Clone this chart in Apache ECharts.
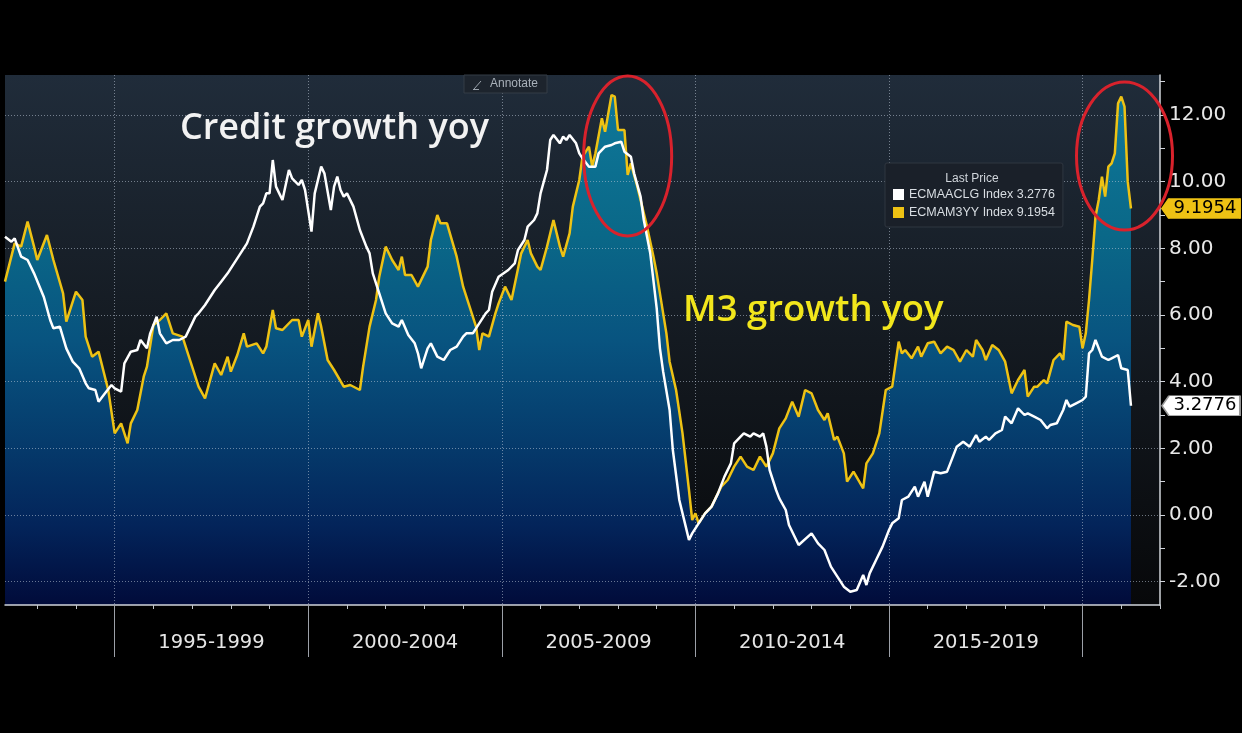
<!DOCTYPE html>
<html>
<head>
<meta charset="utf-8">
<script src="https://cdn.jsdelivr.net/npm/echarts@6/dist/echarts.min.js"></script>
<style>html,body{margin:0;padding:0;background:#000;}#c{width:1242px;height:733px;}</style>
</head>
<body>
<div id="c"></div>
<script>
// ---------- data ----------
const firstMonth = '1992-03';
const lastAxisMonth = '2022-01';
const periodStartYears = [1995, 2000, 2005, 2010, 2015, 2020];
const periodLabels = ['1995-1999', '2000-2004', '2005-2009', '2010-2014', '2015-2019'];
const yLabelValues = [-2, 0, 2, 4, 6, 8, 10, 12];
const yTickValues = [-2, -1, 0, 1, 2, 3, 4, 5, 6, 7, 8, 9, 10, 11, 12, 13];

const creditName = 'ECMAACLG Index';
const m3Name = 'ECMAM3YY Index';

const creditDates = [
 '1992-03','1992-05','1992-06','1992-08','1992-10','1992-12',
 '1993-03','1993-05','1993-06','1993-08','1993-10','1993-12',
 '1994-02','1994-04','1994-05','1994-07','1994-08','1994-10','1994-12',
 '1995-01','1995-03','1995-04','1995-06','1995-08','1995-09','1995-11','1995-12',
 '1996-02','1996-03','1996-05','1996-07','1996-09','1996-11',
 '1997-01','1997-02','1997-03','1997-05','1997-08','1997-10','1997-12',
 '1998-02','1998-04','1998-06','1998-08','1998-10','1998-11','1998-12',
 '1999-01','1999-02','1999-03','1999-04','1999-05','1999-07','1999-08','1999-10','1999-11','1999-12',
 '2000-02','2000-03','2000-05','2000-06','2000-08','2000-09','2000-10','2000-11','2000-12',
 '2001-01','2001-03','2001-05','2001-07','2001-08','2001-09','2001-11',
 '2002-01','2002-03','2002-05','2002-06','2002-08','2002-10','2002-11','2002-12',
 '2003-02','2003-03','2003-05','2003-07','2003-09','2003-11',
 '2004-01','2004-02','2004-04','2004-06','2004-08','2004-09','2004-10','2004-12',
 '2005-03','2005-05','2005-06','2005-08','2005-09','2005-11','2005-12',
 '2006-01','2006-03','2006-04','2006-05','2006-07','2006-08','2006-09','2006-10','2006-12',
 '2007-01','2007-02','2007-04','2007-06','2007-07','2007-09','2007-11','2007-12',
 '2008-02','2008-03','2008-05','2008-06','2008-08','2008-09','2008-11',
 '2009-01','2009-02','2009-03','2009-05','2009-06','2009-08','2009-10','2009-11','2009-12',
 '2010-02','2010-04','2010-06','2010-08','2010-10','2010-12',
 '2011-01','2011-03','2011-04','2011-06','2011-07','2011-09','2011-10','2011-11','2011-12',
 '2012-02','2012-03','2012-05','2012-06','2012-09',
 '2013-01','2013-03','2013-05','2013-07','2013-09','2013-11',
 '2014-01','2014-03','2014-05','2014-06','2014-07','2014-09','2014-11',
 '2015-01','2015-02','2015-04','2015-05','2015-07','2015-09','2015-10','2015-12',
 '2016-01','2016-03','2016-05','2016-07','2016-08','2016-10','2016-12',
 '2017-02','2017-04','2017-05','2017-07','2017-08','2017-10','2017-12',
 '2018-01','2018-03','2018-05','2018-07','2018-08','2018-10','2018-12',
 '2019-02','2019-03','2019-05','2019-07','2019-08','2019-09','2019-11',
 '2020-01','2020-02','2020-03','2020-04','2020-05','2020-07','2020-09','2020-10','2020-12',
 '2021-01','2021-03','2021-04'
];
const creditValues = [
 8.35,8.2,8.3,7.75,7.65,7.25,
 6.55,5.85,5.6,5.65,5.0,4.6,
 4.4,3.95,3.8,3.75,3.4,3.65,3.9,
 3.8,3.7,4.55,4.9,4.95,5.25,5.0,5.45,
 5.95,5.45,5.15,5.25,5.25,5.35,
 5.75,5.95,6.05,6.3,6.75,7.0,7.25,
 7.55,7.85,8.15,8.65,9.25,9.35,9.65,
 9.65,10.65,9.85,9.65,9.45,10.35,10.1,9.9,10.05,9.75,
 8.5,9.65,10.45,10.25,9.15,9.85,10.15,9.75,9.55,
 9.65,9.25,8.55,8.05,7.85,7.25,6.65,
 6.05,5.75,5.65,5.85,5.4,5.15,4.85,4.4,
 5.0,5.15,4.75,4.65,4.95,5.05,
 5.35,5.45,5.45,5.75,6.05,6.15,6.7,7.15,
 7.35,7.55,7.95,8.25,8.65,8.85,9.05,
 9.65,10.35,11.25,11.4,11.15,11.35,11.25,11.4,11.15,
 10.85,10.7,10.45,10.45,10.85,11.05,11.1,11.15,
 11.2,10.9,10.75,10.25,9.55,8.85,7.85,
 6.2,5.0,4.3,3.15,1.95,0.45,-0.35,-0.75,-0.55,
 -0.25,0.05,0.25,0.65,1.15,1.55,
 2.15,2.35,2.45,2.35,2.45,2.35,2.45,2.05,1.35,
 0.75,0.5,0.15,-0.3,-0.9,
 -0.55,-0.85,-1.05,-1.55,-1.85,-2.15,
 -2.3,-2.25,-1.8,-2.1,-1.75,-1.35,-0.95,
 -0.45,-0.25,-0.1,0.45,0.55,0.85,0.55,1.0,
 0.55,1.3,1.25,1.3,1.55,2.05,2.2,
 2.05,2.4,2.2,2.35,2.25,2.45,2.55,
 2.95,2.75,3.2,3.0,3.05,2.95,2.85,
 2.6,2.7,2.75,3.15,3.45,3.25,3.35,
 3.45,3.55,4.85,4.95,5.25,4.75,4.65,4.7,4.8,
 4.4,4.35,3.2776
];

const m3Dates = [
 '1992-03','1992-06','1992-08','1992-10','1992-12',
 '1993-01','1993-04','1993-06','1993-09','1993-10','1993-12',
 '1994-01','1994-03','1994-04','1994-06','1994-08','1994-11',
 '1995-01','1995-03','1995-05','1995-06','1995-08','1995-10','1995-11',
 '1996-01','1996-03','1996-05','1996-07','1996-10',
 '1997-01','1997-03','1997-05','1997-08','1997-10','1997-12',
 '1998-01','1998-03','1998-05','1998-06','1998-09','1998-11','1998-12',
 '1999-02','1999-03','1999-05','1999-08','1999-10','1999-11',
 '2000-01','2000-02','2000-04','2000-05','2000-07','2000-09','2000-12',
 '2001-02','2001-05','2001-06','2001-08','2001-10','2001-11',
 '2002-01','2002-03','2002-05','2002-06','2002-07','2002-09','2002-11',
 '2003-02','2003-03','2003-05','2003-06','2003-08','2003-11',
 '2004-01','2004-03','2004-05','2004-06','2004-07','2004-09','2004-11','2004-12',
 '2005-02','2005-04','2005-07','2005-09','2005-10','2005-12',
 '2006-01','2006-03','2006-05','2006-07','2006-08','2006-10','2006-11',
 '2007-01','2007-02','2007-04','2007-05','2007-06','2007-08','2007-09','2007-11','2007-12',
 '2008-01','2008-03','2008-04','2008-05','2008-07','2008-10','2008-12',
 '2009-01','2009-03','2009-04','2009-05','2009-07','2009-09','2009-11','2009-12',
 '2010-01','2010-02','2010-04','2010-06','2010-09','2010-11',
 '2011-01','2011-03','2011-05','2011-07','2011-09','2011-11',
 '2012-01','2012-03','2012-05','2012-07','2012-09','2012-11',
 '2013-01','2013-03','2013-05','2013-06','2013-08','2013-09','2013-11','2013-12',
 '2014-02','2014-05','2014-06','2014-08','2014-10','2014-12',
 '2015-02','2015-04','2015-05','2015-06','2015-08','2015-10','2015-11',
 '2016-01','2016-03','2016-05','2016-07','2016-09','2016-11',
 '2017-01','2017-03','2017-04','2017-06','2017-07','2017-09','2017-11',
 '2018-01','2018-03','2018-05','2018-07','2018-08','2018-10','2018-11',
 '2019-01','2019-02','2019-04','2019-06','2019-07','2019-08','2019-10','2019-12',
 '2020-01','2020-02','2020-03','2020-04','2020-05','2020-06','2020-07','2020-08','2020-09','2020-10','2020-11','2020-12',
 '2021-01','2021-02','2021-03','2021-04'
];
const m3Values = [
 7.0,8.15,8.05,8.8,8.05,
 7.65,8.4,7.65,6.65,5.8,6.4,
 6.7,6.45,5.35,4.75,4.9,3.75,
 2.45,2.75,2.15,2.75,3.15,4.15,4.45,
 5.7,5.85,6.05,5.45,5.35,
 4.45,3.85,3.5,4.55,4.2,4.75,
 4.3,4.8,5.45,5.05,5.15,4.85,5.05,
 6.15,5.6,5.55,5.85,5.85,5.35,
 5.85,5.05,6.05,5.65,4.65,4.35,3.85,
 3.9,3.75,4.45,5.65,6.45,7.15,
 8.05,7.65,7.35,7.75,7.2,7.2,6.85,
 7.45,8.25,9.0,8.75,8.75,7.75,
 6.85,6.25,5.65,4.95,5.45,5.35,6.05,6.35,
 6.85,6.45,7.85,8.25,7.85,7.45,
 7.35,8.05,8.85,8.05,7.75,8.45,9.25,
 10.05,10.75,11.05,10.45,10.85,11.9,11.5,12.6,12.55,
 11.55,11.55,10.2,10.55,9.85,8.65,7.75,
 7.25,6.05,5.45,4.6,3.75,2.45,0.75,-0.15,
 0.05,-0.25,0.05,0.25,0.85,1.05,
 1.45,1.75,1.45,1.35,1.75,1.45,
 1.85,2.6,2.9,3.4,2.95,3.75,
 3.65,3.15,2.85,3.05,2.25,2.35,1.85,1.0,
 1.3,0.8,1.55,1.85,2.45,3.75,
 3.85,5.2,4.85,4.95,4.7,5.05,4.75,
 5.15,5.2,4.85,5.05,4.95,4.6,
 4.95,4.75,5.25,4.95,4.65,5.1,4.95,
 4.6,3.65,4.05,4.35,3.55,3.85,3.85,
 4.05,3.95,4.65,4.85,4.65,5.8,5.7,5.65,
 5.0,5.45,6.45,7.65,8.95,9.45,10.15,9.55,10.45,10.55,10.85,12.35,
 12.55,12.25,10.0,9.1954
];

// annotation anchors (date, value) for the hand-drawn circles
const circleAnchors = [
  { date: '2008-04', value: 10.77, rx: 44, ry: 80 },
  { date: '2021-02', value: 10.77, rx: 48, ry: 74 }
];

// ---------- build ----------
const months = [];
(function () {
  let y = +firstMonth.slice(0, 4), m = +firstMonth.slice(5, 7);
  while (true) {
    const s = y + '-' + String(m).padStart(2, '0');
    months.push(s);
    if (s === lastAxisMonth) break;
    m++; if (m > 12) { m = 1; y++; }
  }
})();
const boundaryMonths = periodStartYears.map(y => y + '-01');
const labelAt = {};
periodLabels.forEach((lab, i) => { labelAt[(periodStartYears[i] + 2) + '-07'] = lab; });

const creditData = creditDates.map((d, i) => [d, creditValues[i]]);
const m3Data = m3Dates.map((d, i) => [d, m3Values[i]]);
const creditLast = creditValues[creditValues.length - 1];
const m3Last = m3Values[m3Values.length - 1];
const lastVals = {}; lastVals[creditName] = creditLast; lastVals[m3Name] = m3Last;

const YELLOW = '#eec214';
const gridLineStyle = { color: 'rgba(190,200,215,0.55)', width: 1, type: [1, 2] };
const labelFont = 'DejaVu Sans';

function tag(date, val, fill, border) {
  return {
    silent: true,
    symbol: 'path://M0,10 L7,0 L78,0 L78,20 L7,20 Z',
    symbolSize: [78, 20],
    symbolOffset: [70, 0],
    itemStyle: { color: fill, borderColor: border, borderWidth: 1 },
    label: { show: true, position: 'inside', offset: [4, 0], formatter: () => val.toFixed(4),
             color: '#000', fontSize: 18, fontFamily: labelFont },
    data: [{ coord: [date, val], value: val }]
  };
}

const chart = echarts.init(document.getElementById('c'));
chart.setOption({
  backgroundColor: '#000',
  animation: false,
  grid: {
    left: 5, right: 82, top: 75, bottom: 128, show: true, borderWidth: 0,
    backgroundColor: { type: 'linear', x: 0, y: 0, x2: 0, y2: 1, colorStops: [
      { offset: 0, color: '#202c3a' }, { offset: 0.5, color: '#141a21' }, { offset: 1, color: '#07080a' } ] }
  },
  legend: {
    data: [creditName, m3Name], orient: 'vertical', left: 885, top: 163,
    icon: 'rect', itemWidth: 11, itemHeight: 11, itemGap: 5,
    backgroundColor: '#1a2029', borderColor: '#2f3640', borderWidth: 1, borderRadius: 2,
    padding: [25, 8, 8, 8],
    formatter: name => name + ' ' + lastVals[name].toFixed(4),
    textStyle: { color: '#d8dde2', fontSize: 12.5, fontFamily: 'Liberation Sans' },
    selectedMode: false
  },
  xAxis: [
    {
      type: 'category', data: months, boundaryGap: false, z: 3,
      axisLine: { show: true, onZero: false, lineStyle: { color: '#d0d4da', width: 1.5 } },
      axisTick: { show: true, interval: (i, v) => v.endsWith('-01'), length: 4, lineStyle: { color: '#c0c4ca' } },
      axisLabel: { show: true, interval: (i, v) => v in labelAt, formatter: v => labelAt[v] || '',
                   color: '#e6e6e6', fontSize: 19.5, fontFamily: labelFont, margin: 28 },
      splitLine: { show: false }
    },
    {
      type: 'category', data: months, boundaryGap: false, position: 'bottom', z: 3,
      axisLine: { show: false, onZero: false }, axisLabel: { show: false },
      axisTick: { show: true, interval: (i, v) => boundaryMonths.indexOf(v) >= 0, length: 52,
                  lineStyle: { color: '#9ca0a8', width: 1 } },
      splitLine: { show: true, interval: (i, v) => boundaryMonths.indexOf(v) >= 0, lineStyle: gridLineStyle }
    }
  ],
  yAxis: [
    {
      type: 'value', position: 'right', min: -2.7, max: 13.2, splitNumber: 8, z: 3,
      axisLine: { show: true, lineStyle: { color: '#d0d4da', width: 1.5 } },
      axisTick: { show: false },
      axisLabel: {
        customValues: yLabelValues,
        formatter: v => (yLabelValues.indexOf(Math.round(v * 100) / 100) >= 0 ? v.toFixed(2) : ''),
        color: '#e8e8e8', fontSize: 20, fontFamily: labelFont, margin: 9
      },
      splitLine: { show: true, showMinLine: false, showMaxLine: false, lineStyle: gridLineStyle }
    },
    {
      type: 'value', position: 'right', min: -2.7, max: 13.2, z: 3,
      axisLine: { show: false }, axisLabel: { show: false }, splitLine: { show: false },
      axisTick: { show: true, customValues: yTickValues, length: 5, lineStyle: { color: '#d0d4da' } }
    }
  ],
  series: [
    {
      name: 'M3 area', type: 'line', data: m3Data, xAxisIndex: 0, yAxisIndex: 0, symbol: 'none',
      silent: true, z: 1, lineStyle: { width: 0 },
      areaStyle: { origin: 'start', opacity: 1, color: { type: 'linear', x: 0, y: 75, x2: 0, y2: 605, global: true, colorStops: [
        { offset: 0, color: '#0f7a9c' }, { offset: 0.3, color: '#0a6888' }, { offset: 0.5, color: '#085480' },
        { offset: 0.7, color: '#053a6b' }, { offset: 0.85, color: '#03245a' }, { offset: 1, color: '#010b3a' } ] } }
    },
    {
      name: m3Name, type: 'line', data: m3Data, xAxisIndex: 0, yAxisIndex: 0, symbol: 'none', z: 4,
      lineStyle: { color: YELLOW, width: 2.5 }, itemStyle: { color: YELLOW },
      markPoint: tag(m3Dates[m3Dates.length - 1], m3Last, YELLOW, YELLOW)
    },
    {
      name: creditName, type: 'line', data: creditData, xAxisIndex: 0, yAxisIndex: 0, symbol: 'none', z: 5,
      lineStyle: { color: '#ffffff', width: 2.5 }, itemStyle: { color: '#ffffff' },
      markPoint: tag(creditDates[creditDates.length - 1], creditLast, '#ffffff', '#999999')
    }
  ]
});

// ---------- annotations ----------
const graphics = [
  { type: 'text', x: 180, y: 129, z: 100,
    style: { text: 'Credit growth yoy', fill: '#f2f2f2', fontSize: 36, fontWeight: 600, fontFamily: 'Open Sans', verticalAlign: 'middle' } },
  { type: 'text', x: 683, y: 311, z: 100,
    style: { text: 'M3 growth yoy', fill: '#f2e61c', fontSize: 36.5, fontWeight: 600, fontFamily: 'Open Sans', verticalAlign: 'middle' } },
  { type: 'rect', z: 100, shape: { x: 464, y: 75, width: 83, height: 18 },
    style: { fill: '#1d242d', stroke: '#353d47', lineWidth: 1 } },
  { type: 'polyline', z: 101, shape: { points: [[474, 89], [481, 81]] }, style: { stroke: '#9aa2ab', lineWidth: 1 } },
  { type: 'polyline', z: 101, shape: { points: [[473, 89.5], [479, 89.5]] }, style: { stroke: '#9aa2ab', lineWidth: 1 } },
  { type: 'text', x: 490, y: 84, z: 101,
    style: { text: 'Annotate', fill: '#a9b1ba', fontSize: 12, fontFamily: 'Liberation Sans', verticalAlign: 'middle' } },
  { type: 'text', x: 972, y: 179, z: 101,
    style: { text: 'Last Price', fill: '#d0d5db', fontSize: 12, fontFamily: 'Liberation Sans', align: 'center', verticalAlign: 'middle' } }
];
circleAnchors.forEach(a => {
  const p = chart.convertToPixel({ seriesIndex: 1 }, [months.indexOf(a.date), a.value]);
  graphics.push({ type: 'ellipse', z: 102, shape: { cx: p[0], cy: p[1], rx: a.rx, ry: a.ry },
    style: { fill: 'none', stroke: '#d9222c', lineWidth: 3 } });
});
chart.setOption({ graphic: graphics });
</script>
</body>
</html>
